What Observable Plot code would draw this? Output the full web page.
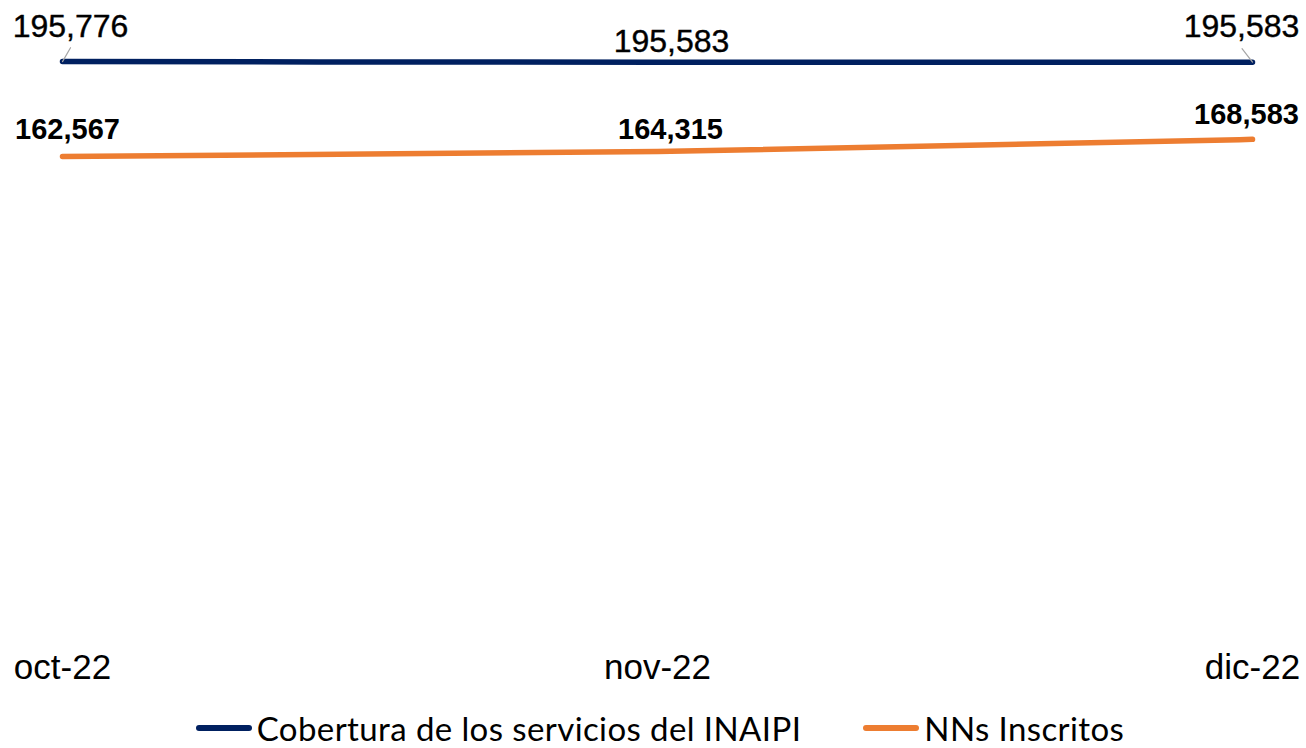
<!DOCTYPE html>
<html>
<head>
<meta charset="utf-8">
<script src="https://cdn.jsdelivr.net/npm/d3@7"></script>
<script src="https://cdn.jsdelivr.net/npm/@observablehq/plot@0.6"></script>
<style>
  html, body { margin: 0; padding: 0; background: #fff; overflow: hidden; }
  #chart { width: 1306px; }
  .legend { display: flex; justify-content: center; align-items: center; gap: 62px; height: 40px;
            padding-top: 8px; padding-left: 14px; letter-spacing: 0.4px;
            font-family: Lato, "Open Sans", sans-serif; font-size: 33px; color: #000; }
  .item { display: flex; align-items: center; gap: 5px; }
  .sw { display: inline-block; width: 56px; height: 6px; border-radius: 3px; }
</style>
</head>
<body>
<div id="chart"></div>
<script>
const months = ["oct-22", "nov-22", "dic-22"];
const seriesNames = ["Cobertura de los servicios del INAIPI", "NNs Inscritos"];
const cobertura = [195776, 195583, 195583];
const inscritos = [162567, 164315, 168583];
const colors = ["#002060", "#ED7D31"];

const data = [
  ...months.map((m, i) => ({month: m, value: cobertura[i], series: seriesNames[0], i})),
  ...months.map((m, i) => ({month: m, value: inscritos[i], series: seriesNames[1], i}))
];
const blue = data.filter(d => d.series === seriesNames[0]);
const orange = data.filter(d => d.series === seriesNames[1]);
const fmt = d3.format(",");

const leader = {draw(context, l) { context.moveTo(0, 0); context.lineTo(0, -l); }};

const blueFont = {fontFamily: "Liberation Sans, Arial, sans-serif", fontSize: 32, fill: "#000", stroke: "#000", strokeWidth: 0.4};
const orangeFont = {fontFamily: "Liberation Sans, Arial, sans-serif", fontSize: 29, fontWeight: "bold", fill: "#000"};

const chart = Plot.plot({
  width: 1306,
  height: 700,
  marginLeft: 62,
  marginRight: 54,
  marginTop: 49,
  marginBottom: 79,
  style: {fontFamily: "Liberation Sans, Arial, sans-serif", background: "#fff"},
  x: {type: "point", domain: months, padding: 0, label: null},
  y: {domain: [0, 200000], axis: null},
  color: {domain: seriesNames, range: colors},
  marks: [
    Plot.axisX({tickSize: 0, tickPadding: 33, fontSize: 35, fill: "#000", label: null}),
    Plot.line(data, {x: "month", y: "value", stroke: "series", z: "series", strokeWidth: 5.5,
      strokeLinecap: "round", strokeLinejoin: "round", curve: "monotone-x"}),
    // leader lines for end labels of the blue series
    Plot.vector(blue.filter(d => d.i === 0), {x: "month", y: "value", anchor: "start", length: 16,
      rotate: 30, shape: leader, stroke: "#a6a6a6", strokeWidth: 1.2}),
    Plot.vector(blue.filter(d => d.i === 2), {x: "month", y: "value", anchor: "start", length: 17,
      rotate: -38, shape: leader, stroke: "#a6a6a6", strokeWidth: 1.2}),
    // blue labels
    Plot.text(blue.filter(d => d.i === 0), {x: "month", y: "value", text: d => fmt(d.value),
      lineAnchor: "bottom", dx: 8, dy: -25, ...blueFont}),
    Plot.text(blue.filter(d => d.i === 1), {x: "month", y: "value", text: d => fmt(d.value),
      lineAnchor: "bottom", dx: 14, dy: -10, ...blueFont}),
    Plot.text(blue.filter(d => d.i === 2), {x: "month", y: "value", text: d => fmt(d.value),
      lineAnchor: "bottom", dx: -11, dy: -25, ...blueFont}),
    // orange labels
    Plot.text(orange.filter(d => d.i === 0), {x: "month", y: "value", text: d => fmt(d.value),
      lineAnchor: "bottom", dx: 5, dy: -18, ...orangeFont}),
    Plot.text(orange.filter(d => d.i === 1), {x: "month", y: "value", text: d => fmt(d.value),
      lineAnchor: "bottom", dx: 13, dy: -13, ...orangeFont}),
    Plot.text(orange.filter(d => d.i === 2), {x: "month", y: "value", text: d => fmt(d.value),
      lineAnchor: "bottom", dx: -6, dy: -15, ...orangeFont})
  ]
});
document.getElementById("chart").appendChild(chart);

const legend = document.createElement("div");
legend.className = "legend";
seriesNames.forEach((name, k) => {
  const item = document.createElement("span");
  item.className = "item";
  const sw = document.createElement("span");
  sw.className = "sw";
  sw.style.background = colors[k];
  const label = document.createElement("span");
  label.textContent = name;
  item.appendChild(sw);
  item.appendChild(label);
  legend.appendChild(item);
});
document.getElementById("chart").appendChild(legend);
</script>
</body>
</html>
